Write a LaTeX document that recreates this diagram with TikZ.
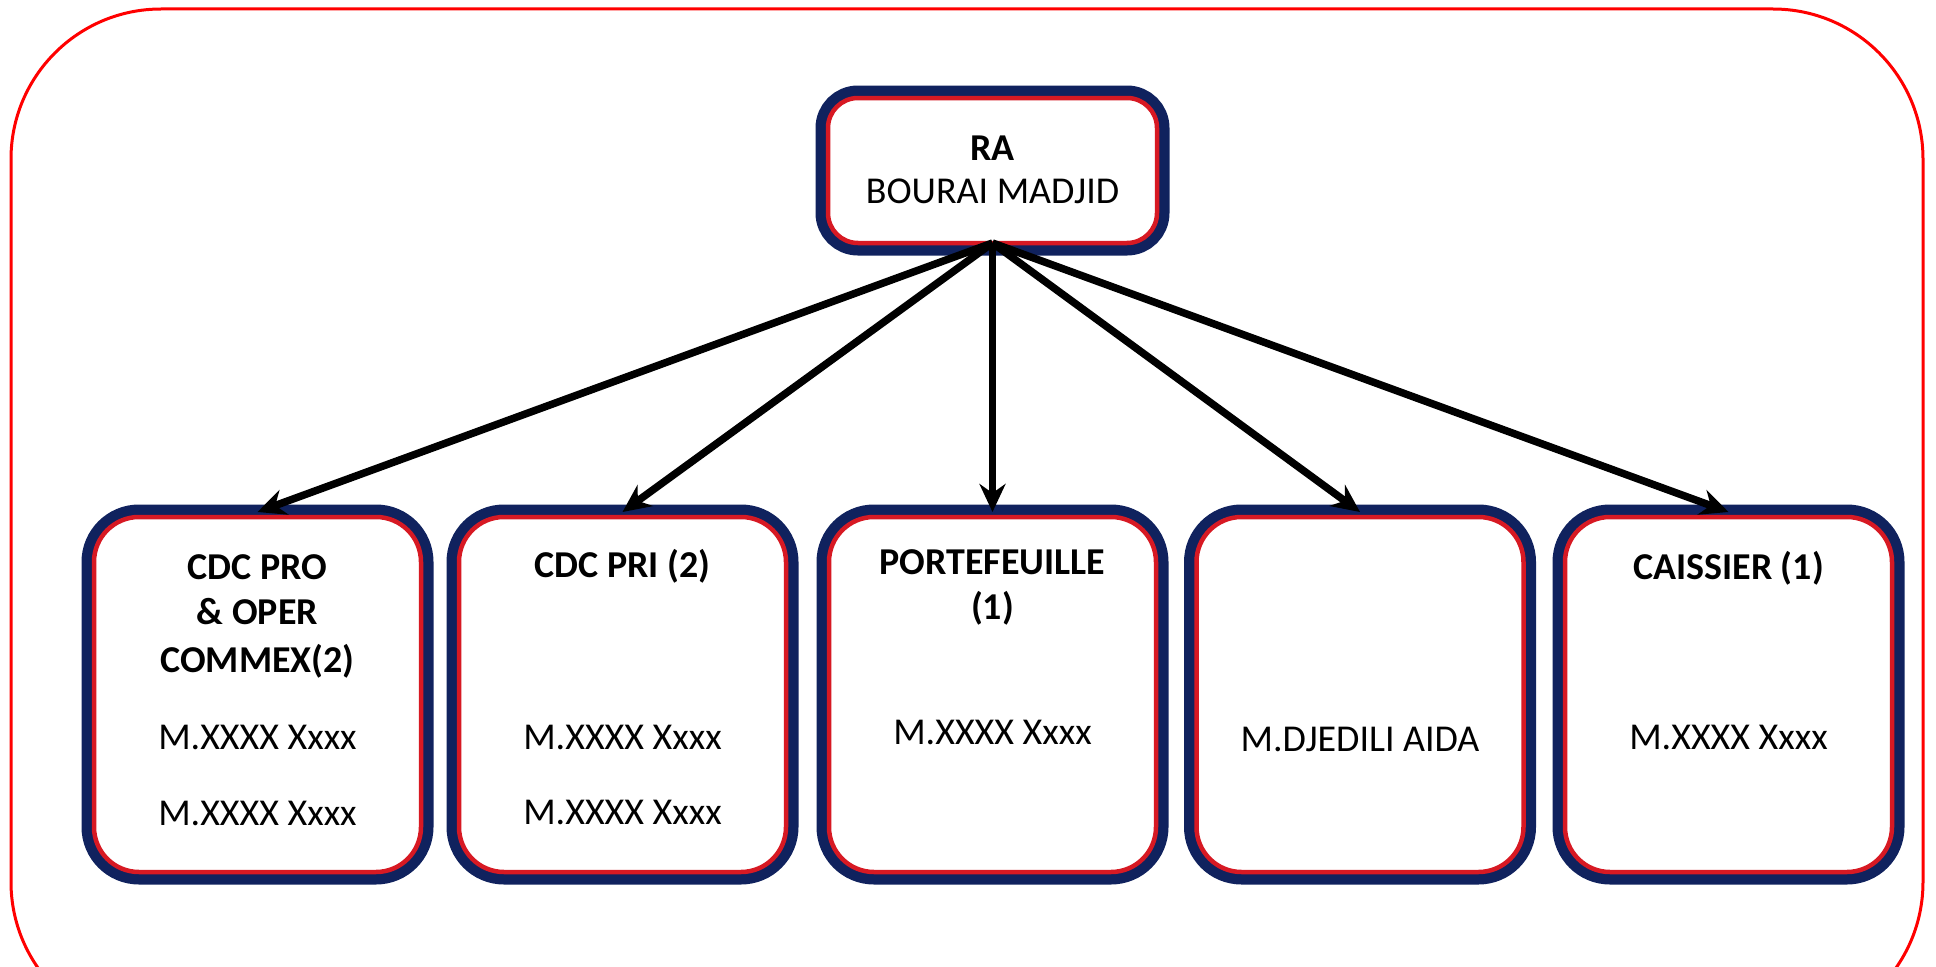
\documentclass[tikz,border=0pt]{standalone}
\usepackage{fontspec}
\setmainfont{Carlito}
\usetikzlibrary{arrows.meta}
\definecolor{navy}{RGB}{16,34,94}
\definecolor{boxred}{RGB}{215,25,35}

\begin{document}
\begin{tikzpicture}[
		box/.style={rectangle,rounded corners=0.45cm,draw=boxred,line width=0.045cm,fill=white,minimum width=3.27cm,minimum height=3.55cm,outer sep=0.05cm,preaction={draw=navy,line width=0.25cm}},
		topbox/.style={box,rounded corners=0.3cm,minimum width=3.29cm,minimum height=1.45cm,outer sep=0pt},
		txt/.style={anchor=base,inner sep=0pt,font=\fontsize{10.8pt}{13pt}\selectfont},
		head/.style={txt,font=\fontsize{10.8pt}{13pt}\selectfont\bfseries},
		arrow/.style={-{Stealth[length=0.28cm,width=0.26cm]},line width=0.075cm}
	]
	\useasboundingbox (0,0) rectangle (19.36,9.66);
	\clip (0,0) rectangle (19.36,9.66);
	\draw[red,line width=0.03cm,rounded corners=1.5cm] (0.11,9.57) rectangle (19.23,-0.66);
	
	\node (ra) at (9.925,7.955) [topbox] {};
	\node (cdcpro) at (2.575,2.715) [box] {};
	\node (cdcpri) at (6.225,2.715) [box] {};
	\node (portef) at (9.925,2.715) [box] {};
	\node (djedili) at (13.60,2.715) [box] {};
	\node (caissier) at (17.285,2.715) [box] {};
	
	\node (ra-t) at (9.925,8.06) [head] {RA};
	\node (ra-n) at (9.925,7.62) [txt] {BOURAI MADJID};
	
	\node (cdcpro-t1) at (2.575,3.87) [head] {CDC PRO};
	\node (cdcpro-t2) at (2.575,3.42) [head] {\& OPER};
	\node (cdcpro-t3) at (2.575,2.94) [head] {COMMEX(2)};
	\node (cdcpro-n1) at (2.575,2.17) [txt] {M.XXXX Xxxx};
	\node (cdcpro-n2) at (2.575,1.41) [txt] {M.XXXX Xxxx};
	
	\node (cdcpri-t) at (6.225,3.89) [head] {CDC PRI (2)};
	\node (cdcpri-n1) at (6.225,2.17) [txt] {M.XXXX Xxxx};
	\node (cdcpri-n2) at (6.225,1.42) [txt] {M.XXXX Xxxx};
	
	\node (portef-t1) at (9.925,3.92) [head] {PORTEFEUILLE};
	\node (portef-t2) at (9.925,3.47) [head] {(1)};
	\node (portef-n) at (9.925,2.22) [txt] {M.XXXX Xxxx};
	
	\node (djedili-n) at (13.60,2.15) [txt] {M.DJEDILI AIDA};
	
	\node (caissier-t) at (17.285,3.87) [head] {CAISSIER (1)};
	\node (caissier-n) at (17.285,2.17) [txt] {M.XXXX Xxxx};
	
	\draw[arrow] (ra.south) -- (cdcpro.north);
	\draw[arrow] (ra.south) -- (cdcpri.north);
	\draw[arrow] (ra.south) -- (portef.north);
	\draw[arrow] (ra.south) -- (djedili.north);
	\draw[arrow] (ra.south) -- (caissier.north);
\end{tikzpicture}
\end{document}
